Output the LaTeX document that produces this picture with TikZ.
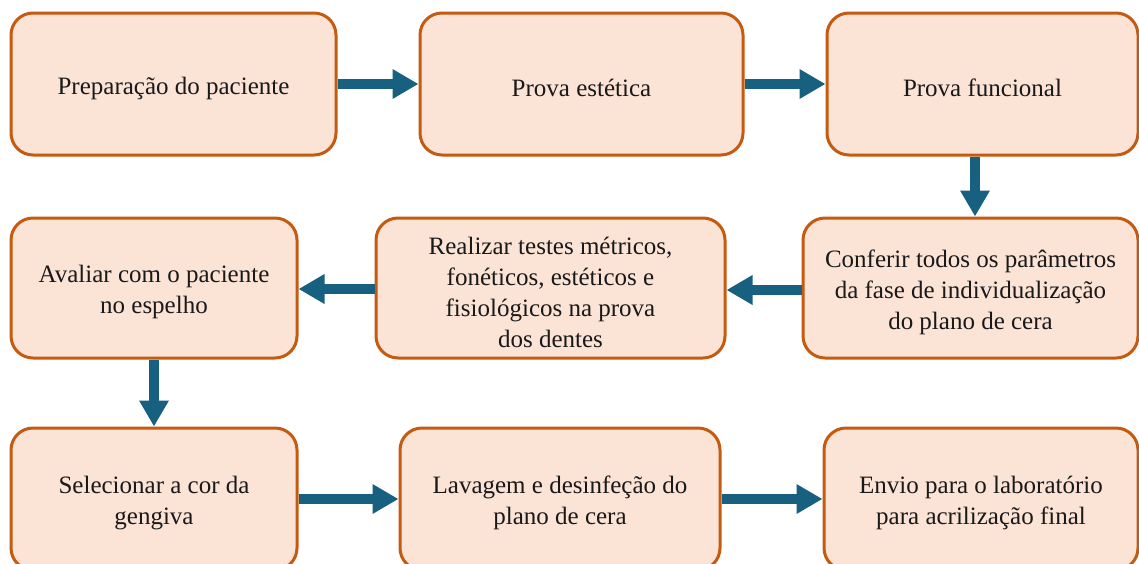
\documentclass[tikz,border=0pt]{standalone}
\usepackage{fontspec}
\setmainfont{Liberation Serif}
\newfontfamily\timesfont{Liberation Serif}
\usetikzlibrary{arrows.meta,calc}
\definecolor{boxfill}{HTML}{FBE3D6}
\definecolor{boxline}{HTML}{C55A11}
\definecolor{arrowcol}{HTML}{17607F}
\tikzset{
  stepbox/.style={draw=boxline, fill=boxfill, line width=3pt, rounded corners=22pt,
    inner sep=0pt},
  steptext/.style={align=center, inner sep=0pt, yshift=-4pt,
    font=\timesfont\fontsize{25pt}{31pt}\selectfont, text=black!90},
  flow/.style={draw=arrowcol, line width=10pt,
    -{Triangle[length=26pt,width=28pt]}}
}
\begin{document}
\begin{tikzpicture}[x=1pt,y=-1pt]
\useasboundingbox (0,0) rectangle (1139,563);
\clip (0,0) rectangle (1139,563);
\fill[white] (0,0) rectangle (1139,563);
\node[stepbox, minimum width=325pt, minimum height=142pt] (b1) at (173.5,84) {};
\node[stepbox, minimum width=323pt, minimum height=142pt] (b2) at (581.5,84) {};
\node[stepbox, minimum width=311pt, minimum height=142pt] (b3) at (982.5,84) {};
\node[stepbox, minimum width=286pt, minimum height=140pt] (b4) at (154,288) {};
\node[stepbox, minimum width=349pt, minimum height=140pt] (b5) at (550.5,288) {};
\node[stepbox, minimum width=335pt, minimum height=140pt] (b6) at (970.5,288) {};
\node[stepbox, minimum width=286pt, minimum height=142pt] (b7) at (154,499) {};
\node[stepbox, minimum width=320pt, minimum height=142pt] (b8) at (560,499) {};
\node[stepbox, minimum width=314pt, minimum height=142pt] (b9) at (981,499) {};
\node[steptext] (t1) at (b1) {Preparação do paciente};
\node[steptext] (t2) at (b2) {Prova estética};
\node[steptext] (t3) at (b3) {Prova funcional};
\node[steptext] (t4) at (b4) {Avaliar com o paciente\\no espelho};
\node[steptext] (t5) at (b5) {Realizar testes métricos,\\fonéticos, estéticos e\\fisiológicos na prova\\dos dentes};
\node[steptext] (t6) at (b6) {Conferir todos os parâmetros\\da fase de individualização\\do plano de cera};
\node[steptext] (t7) at (b7) {Selecionar a cor da\\gengiva};
\node[steptext] (t8) at (b8) {Lavagem e desinfeção do\\plano de cera};
\node[steptext] (t9) at (b9) {Envio para o laboratório\\para acrilização final};
\draw[flow] (b1.east) -- (b2.west);
\draw[flow] (b2.east) -- (b3.west);
\draw[flow] ([xshift=-7.5pt]b3.south) -- ([xshift=-7.5pt]b3.south |- b6.north);
\draw[flow] ([yshift=-2pt]b6.west) -- ([yshift=-2pt]b6.west -| b5.east);
\draw[flow] ([yshift=-1pt]b5.west) -- ([yshift=-1pt]b5.west -| b4.east);
\draw[flow] (b4.south) -- (b7.north);
\draw[flow] (b7.east) -- (b8.west);
\draw[flow] (b8.east) -- (b9.west);
\end{tikzpicture}
\end{document}
